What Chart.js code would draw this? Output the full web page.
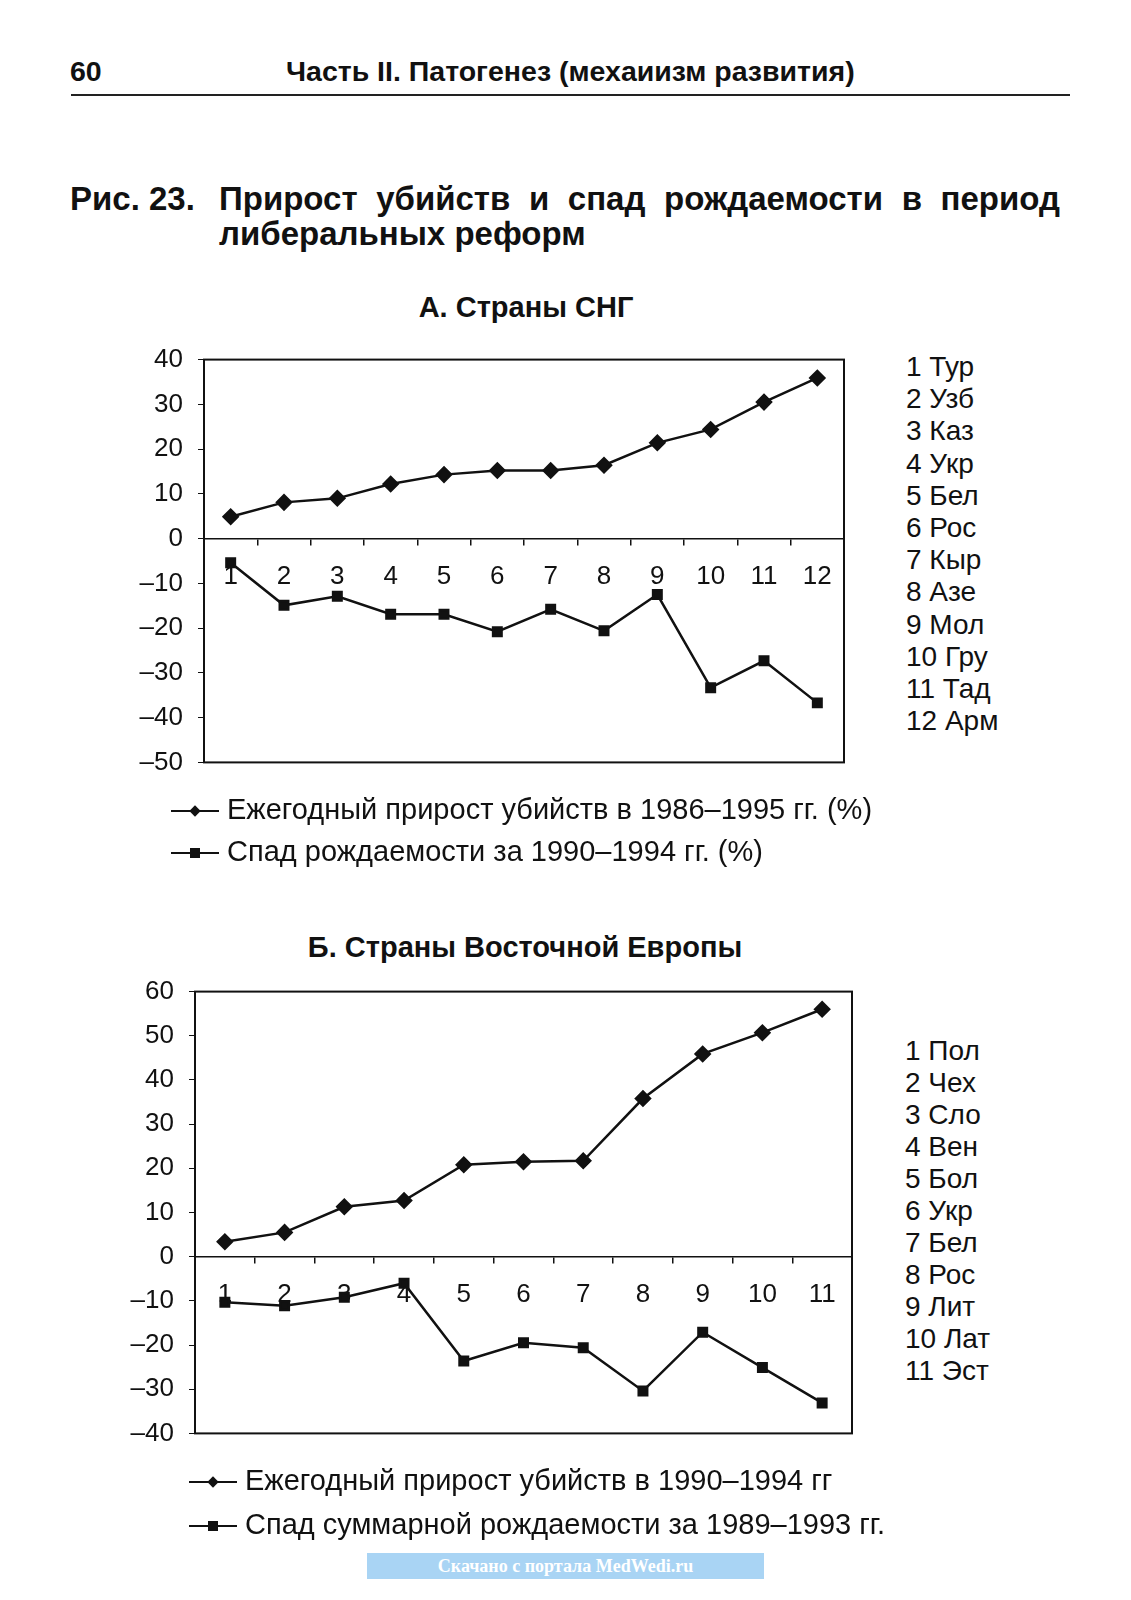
<!DOCTYPE html>
<html>
<head>
<meta charset="utf-8">
<script src="https://cdn.jsdelivr.net/npm/chart.js@4.4.1/dist/chart.umd.min.js"></script>
<style>
    body { margin: 0; background: #fff; }
    #page { position: relative; width: 1131px; height: 1600px; font-family: "Liberation Sans", Arial, sans-serif; color: #111; }
    .abs { position: absolute; white-space: nowrap; }
    .hdr { font-weight: bold; font-size: 28.5px; }
    .cap { font-weight: bold; font-size: 33px; }
    .sub { font-weight: bold; font-size: 29px; transform: translate(-50%, -50%); }
    .list { font-size: 28px; }
    .legend { font-size: 29px; line-height: 42px; }
    .legend svg { vertical-align: middle; margin-right: 8px; }
    canvas { position: absolute; }
</style>
</head>
<body>
<div id="page">
    <div class="abs hdr" style="left:70px; top:55px;">60</div>
    <div class="abs hdr" style="left:286px; top:55px;">Часть II. Патогенез (мехаиизм развития)</div>
    <div class="abs" style="left:71px; top:94px; width:999px; height:2px; background:#222;"></div>

    <div class="abs cap" style="left:70px; top:180px;">Рис. 23.</div>
    <div class="abs cap" style="left:219px; top:180px; width:841px; display:flex; justify-content:space-between;">
        <span>Прирост</span><span>убийств</span><span>и</span><span>спад</span><span>рождаемости</span><span>в</span><span>период</span>
    </div>
    <div class="abs cap" style="left:219px; top:215px;">либеральных реформ</div>

    <div class="abs sub" style="left:526px; top:307px;">А. Страны СНГ</div>
    <canvas id="chartA" style="left:130px; top:329px;" width="730" height="464"></canvas>
    <div class="abs list" id="listA" style="left:906px; top:351px; line-height:32.2px;"></div>
    <div class="abs legend" style="left:171px; top:788px;">
        <div><svg width="48" height="14"><line x1="0" y1="7" x2="48" y2="7" stroke="#111" stroke-width="2"/><rect x="20" y="3" width="8" height="8" fill="#111" transform="rotate(45 24 7)"/></svg>Ежегодный прирост убийств в 1986–1995 гг. (%)</div>
        <div><svg width="48" height="14"><line x1="0" y1="7" x2="48" y2="7" stroke="#111" stroke-width="2"/><rect x="19" y="2" width="10" height="10" fill="#111"/></svg>Спад рождаемости за 1990–1994 гг. (%)</div>
    </div>

    <div class="abs sub" style="left:525px; top:947px;">Б. Страны Восточной Европы</div>
    <canvas id="chartB" style="left:120px; top:961px;" width="750" height="503"></canvas>
    <div class="abs list" id="listB" style="left:905px; top:1035px; line-height:32px;"></div>
    <div class="abs legend" style="left:189px; top:1458px; line-height:44px;">
        <div><svg width="48" height="14"><line x1="0" y1="7" x2="48" y2="7" stroke="#111" stroke-width="2"/><rect x="20" y="3" width="8" height="8" fill="#111" transform="rotate(45 24 7)"/></svg>Ежегодный прирост убийств в 1990–1994 гг</div>
        <div><svg width="48" height="14"><line x1="0" y1="7" x2="48" y2="7" stroke="#111" stroke-width="2"/><rect x="19" y="2" width="10" height="10" fill="#111"/></svg>Спад суммарной рождаемости за 1989–1993 гг.</div>
    </div>

    <div class="abs" style="left:367px; top:1553px; width:397px; height:26px; background:#a9d4f4; color:#fff; font-family:'Liberation Serif', serif; font-weight:bold; font-size:18px; text-align:center; line-height:26px;">Скачано с портала MedWedi.ru</div>
</div>

<script>
// А. Страны СНГ
const cisNames = ['Тур', 'Узб', 'Каз', 'Укр', 'Бел', 'Рос', 'Кыр', 'Азе', 'Мол', 'Гру', 'Тад', 'Арм'];
const cisLabels = ['1', '2', '3', '4', '5', '6', '7', '8', '9', '10', '11', '12'];
const cisMurders = [4.9, 8.1, 9.0, 12.2, 14.3, 15.2, 15.2, 16.4, 21.4, 24.4, 30.5, 35.9];
const cisBirths = [-5.4, -14.9, -12.9, -16.9, -16.9, -20.8, -15.8, -20.6, -12.5, -33.3, -27.3, -36.7];

// Б. Страны Восточной Европы
const eeNames = ['Пол', 'Чех', 'Сло', 'Вен', 'Бол', 'Укр', 'Бел', 'Рос', 'Лит', 'Лат', 'Эст'];
const eeLabels = ['1', '2', '3', '4', '5', '6', '7', '8', '9', '10', '11'];
const eeMurders = [3.4, 5.5, 11.3, 12.7, 20.8, 21.5, 21.7, 35.8, 45.9, 50.7, 56.0];
const eeBirths = [-10.3, -11.1, -9.2, -6.0, -23.6, -19.5, -20.6, -30.4, -17.1, -25.1, -33.1];

function fillList(id, names) {
    document.getElementById(id).innerHTML = names.map((n, i) => (i + 1) + ' ' + n).join('<br>');
}
fillList('listA', cisNames);
fillList('listB', eeNames);

const ink = '#111';

// frame around the plot area
const boxPlugin = {
    id: 'box',
    afterDraw(chart) {
        const a = chart.chartArea;
        const ctx = chart.ctx;
        ctx.save();
        ctx.strokeStyle = ink;
        ctx.lineWidth = 2;
        ctx.strokeRect(a.left, a.top, a.right - a.left, a.bottom - a.top);
        ctx.restore();
    }
};

function createChart(id, labels, murders, births, yMin, yMax, yWidth, padRight) {
    const ctx = document.getElementById(id).getContext('2d');
    return new Chart(ctx, {
        type: 'line',
        data: {
            labels: labels,
            datasets: [{
                label: 'Прирост убийств',
                data: murders,
                borderColor: ink,
                backgroundColor: ink,
                borderWidth: 2.5,
                pointStyle: 'rectRot',
                pointRadius: 7,
                tension: 0
            }, {
                label: 'Спад рождаемости',
                data: births,
                borderColor: ink,
                backgroundColor: ink,
                borderWidth: 2.5,
                pointStyle: 'rect',
                pointRadius: 6,
                tension: 0
            }]
        },
        options: {
            responsive: false,
            animation: false,
            layout: { padding: { left: 0, right: padRight, top: 0, bottom: 0 } },
            scales: {
                x: {
                    position: { y: 0 },
                    offset: true,
                    grid: { offset: true, drawOnChartArea: false, drawTicks: true, tickLength: 6, color: ink, lineWidth: 1.5 },
                    border: { display: true, color: ink, width: 1.5 },
                    ticks: { color: ink, padding: 17, font: { family: 'Liberation Sans', size: 26 }, maxRotation: 0 }
                },
                y: {
                    min: yMin,
                    max: yMax,
                    afterFit(scale) { scale.width = yWidth; },
                    grid: { drawOnChartArea: false, drawTicks: true, tickLength: 6, color: ink },
                    border: { display: true, color: ink, width: 2 },
                    ticks: {
                        stepSize: 10,
                        color: ink,
                        padding: 15,
                        font: { family: 'Liberation Sans', size: 26 },
                        callback: v => v < 0 ? '–' + Math.abs(v) : String(v)
                    }
                }
            },
            plugins: {
                legend: { display: false },
                tooltip: { enabled: false }
            }
        },
        plugins: [boxPlugin]
    });
}

createChart('chartA', cisLabels, cisMurders, cisBirths, -50, 40, 74, 16);
createChart('chartB', eeLabels, eeMurders, eeBirths, -40, 60, 75, 18);
</script>
</body>
</html>
